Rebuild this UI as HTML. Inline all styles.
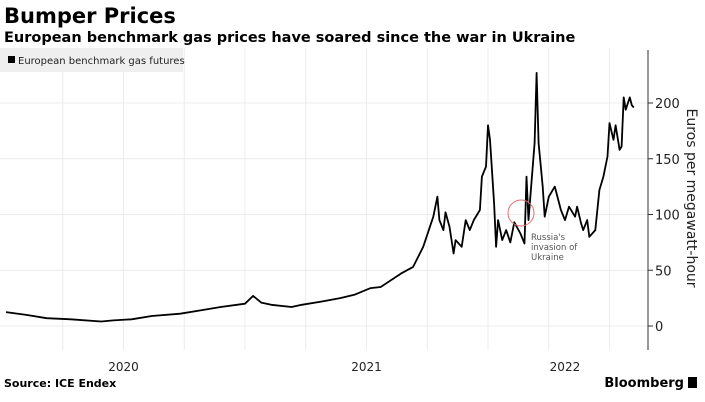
<!DOCTYPE html>
<html><head><meta charset="utf-8"><style>
body{margin:0;background:#fff;width:705px;height:402px;overflow:hidden;font-family:"DejaVu Sans","Liberation Sans",sans-serif}
svg{position:absolute;left:0;top:0}
</style></head><body>
<svg width="705" height="402">
<text x="4" y="23" font-size="21" font-weight="bold" fill="#000">Bumper Prices</text>
<text x="4" y="42" font-size="14.5" font-weight="bold" fill="#000">European benchmark gas prices have soared since the war in Ukraine</text>
<g id="grid"></g>
<rect x="0" y="48" width="183" height="24" fill="#efefef"/>
<rect x="8" y="56" width="7" height="7" fill="#000"/>
<text x="18" y="64" font-size="10" fill="#222">European benchmark gas futures</text>
<g id="plot"></g>
<line x1="648" y1="50" x2="648" y2="350" stroke="#333" stroke-width="1"/>
<g id="yt"></g>
<text transform="translate(687,198) rotate(90)" text-anchor="middle" font-size="14" fill="#222">Euros per megawatt-hour</text>
<circle cx="521" cy="213" r="13" fill="none" stroke="#e07070" stroke-width="1"/>
<text font-size="8.5" fill="#555"><tspan x="531" y="240">Russia's</tspan><tspan x="531" y="250">invasion of</tspan><tspan x="531" y="260">Ukraine</tspan></text>
<g id="xl"></g>
<text x="4" y="387" font-size="11" font-weight="bold" fill="#000">Source: ICE Endex</text>
<text x="684" y="387" text-anchor="end" font-size="13" font-weight="bold" fill="#000">Bloomberg</text>
<rect x="688" y="377" width="9" height="11" fill="#000"/>
</svg>
<script>
// months since Jan 2020
const months=[0.2,1.2,2.2,3.4,4.9,5.5,6.4,7.4,8.8,9.8,10.8,12.0,12.4,12.8,13.3,14.3,14.8,15.8,16.7,17.4,18.2,18.7,19.7,20.3,20.8,21.3,21.5,21.6,21.8,21.9,22.1,22.3,22.4,22.7,22.9,23.1,23.3,23.6,23.7,23.9,24.0,24.1,24.3,24.4,24.5,24.7,24.9,25.1,25.3,25.6,25.8,25.9,26.0,26.3,26.4,26.5,26.7,26.8,27.0,27.3,27.6,27.8,28.0,28.3,28.4,28.6,28.7,28.9,29.0,29.3,29.5,29.7,29.9,30.0,30.2,30.3,30.5,30.6,30.7,30.8,31.0,31.1,31.2];
const prices=[12.5,10,7,6,4,5,6,9,11,14,17,20,27,21,19,17,19,22,25,28,34,35,47,53,71,98,116,95,86,102,89,65,77,71,95,86,95,104,134,143,180,167,110,71,95,77,86,75,93,83,74,134,95,164,227,164,125,98,116,125,104,95,107,98,107,92,86,95,80,86,122,134,152,182,167,180,158,161,205,194,205,198,196];
const yTicks=[0,50,100,150,200];
const yearLabels=["2020","2021","2022"];
const yearLabelMonths=[6,18,27.8];
const gridMonths=[3,6,9,12,15,18,21,24,27,30];
const NS="http://www.w3.org/2000/svg";
const X=m=>2+m*20.25, Y=v=>326-v*1.115;
function mk(t,a,p){const e=document.createElementNS(NS,t);for(const k in a)e.setAttribute(k,a[k]);p.appendChild(e);return e;}
const grid=document.getElementById('grid');
gridMonths.forEach(m=>{const l=mk('line',{x1:X(m),x2:X(m),y1:48,y2:350,stroke:'#ececec','stroke-width':1},grid);

});
const yt=document.getElementById('yt');
yTicks.forEach(v=>{const l=mk('line',{x1:0,x2:648,y1:Y(v),y2:Y(v),stroke:'#ececec','stroke-width':1},grid);


const tk=mk('line',{x1:648,x2:653,y1:Y(v),y2:Y(v),stroke:'#333'},yt);


const t=mk('text',{x:655,y:Y(v)+5,'font-size':13,fill:'#222'},yt);t.textContent=v;

});
const xl=document.getElementById('xl');
yearLabels.forEach((s,i)=>{const t=mk('text',{x:X(yearLabelMonths[i]),y:371,'text-anchor':'middle','font-size':12,fill:'#222'},xl);t.textContent=s;

});
const d=months.map((m,i)=>(i?'L':'M')+X(m).toFixed(1)+','+Y(prices[i]).toFixed(1)).join('');
const p=mk('path',{d:d,fill:'none',stroke:'#000','stroke-width':1.8,'stroke-linejoin':'round'},document.getElementById('plot'));


</script>
</body></html>
